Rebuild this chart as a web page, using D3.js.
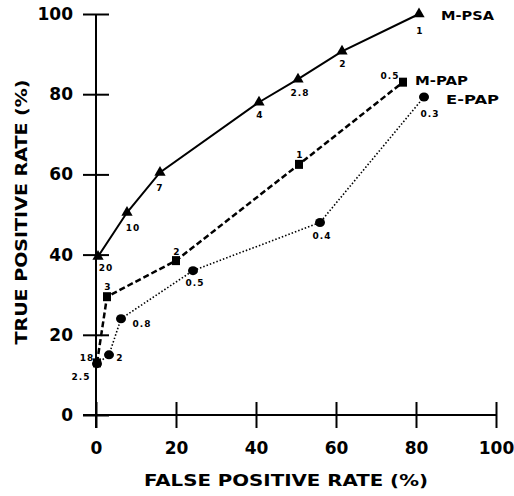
<!DOCTYPE html>
<html>
<head>
<meta charset="utf-8">
<script src="https://cdn.jsdelivr.net/npm/d3@7"></script>
<style>
  body { margin: 0; background: #fff; }
  text { font-family: "DejaVu Sans", sans-serif; font-weight: bold; fill: #000; }
</style>
</head>
<body>
<div id="chart"></div>
<script>
// ROC curves, false positive rate vs true positive rate (%)
var seriesNames = ["M-PSA", "M-PAP", "E-PAP"];

var psaFpr = [0.5, 7.75, 16, 40.75, 50.5, 61.5, 80.75];
var psaTpr = [39.5, 50.5, 60.5, 78, 83.75, 90.7, 100];
var psaCut = ["20", "10", "7", "4", "2.8", "2", "1"];

var mpapFpr = [0.25, 2.75, 20, 50.75, 76.75];
var mpapTpr = [13, 29.5, 38.5, 62.5, 83];
var mpapCut = ["18", "3", "2", "1", "0.5"];

var epapFpr = [0.25, 3.25, 6.25, 24.25, 56, 82];
var epapTpr = [12.8, 15, 24, 36, 48, 79.3];
var epapCut = ["2.5", "2", "0.8", "0.5", "0.4", "0.3"];

var xTicks = [0, 20, 40, 60, 80, 100];
var yTicks = [0, 20, 40, 60, 80, 100];

// label offsets (px) for the cut-off numbers
var psaOff = [[8, 11], [6, 15], [0, 15], [1, 13], [2, 14], [1, 13], [1, 17]];
var mpapOff = [[-10, -5], [1, -10], [1, -9], [1, -10], [-13, -6]];
var epapOff = [[-16, 13], [11, 3], [21, 5], [2, 12], [2, 13], [6, 17]];

function zip(fpr, tpr, cut, off) {
    return fpr.map(function(d, i) {
        return {x: d, y: tpr[i], cut: cut[i], dx: off[i][0], dy: off[i][1]};
    });
}

var series = [
    {name: seriesNames[0], points: zip(psaFpr, psaTpr, psaCut, psaOff), dash: null, width: 2, marker: "triangle", lx: 441, ly: 20},
    {name: seriesNames[1], points: zip(mpapFpr, mpapTpr, mpapCut, mpapOff), dash: "6,3", width: 2.5, marker: "square", lx: 415, ly: 85},
    {name: seriesNames[2], points: zip(epapFpr, epapTpr, epapCut, epapOff), dash: "1.5,2", width: 1.6, marker: "circle", lx: 446, ly: 104}
];

var width = 514, height = 496;
var svg = d3.select("#chart").append("svg")
    .attr("width", width)
    .attr("height", height);

var x = d3.scaleLinear().domain([0, 100]).range([96, 496]);
var y = d3.scaleLinear().domain([0, 100]).range([415, 14]);

// axes: ticks cross the axis line
var yAxis = d3.axisLeft(y).tickValues(yTicks).tickSizeInner(13).tickSizeOuter(0).tickPadding(10);
var gy = svg.append("g").attr("transform", "translate(" + x(0) + ",0)").call(yAxis);
var gy2 = svg.append("g").attr("transform", "translate(" + x(0) + ",0)")
    .call(d3.axisRight(y).tickValues(yTicks).tickSize(13).tickFormat(""));
gy2.select(".domain").remove();

var xAxis = d3.axisBottom(x).tickValues(xTicks).tickSizeInner(13).tickSizeOuter(0).tickPadding(14);
var gx = svg.append("g").attr("transform", "translate(0," + y(0) + ")").call(xAxis);
var gx2 = svg.append("g").attr("transform", "translate(0," + y(0) + ")")
    .call(d3.axisTop(x).tickValues(xTicks).tickSize(13).tickFormat(""));
gx2.select(".domain").remove();

svg.selectAll(".domain, .tick line").attr("stroke", "#000").attr("stroke-width", 2);
gy.select(".domain").attr("d", "M0," + y(100) + "V" + (y(0) + 13));
gx.select(".domain").attr("d", "M" + (x(0) - 13) + ",0H" + x(100));
svg.selectAll(".tick text")
    .style("font-family", "'DejaVu Sans', sans-serif")
    .style("font-weight", "bold")
    .style("font-size", "17px")
    .attr("fill", "#000");
gx.selectAll(".tick text").attr("dy", "0.71em");

// axis titles
svg.append("text")
    .attr("x", 286).attr("y", 486)
    .attr("text-anchor", "middle")
    .attr("textLength", 284).attr("lengthAdjust", "spacingAndGlyphs")
    .style("font-size", "15px")
    .text("FALSE POSITIVE RATE (%)");

svg.append("text")
    .attr("transform", "translate(27,212) rotate(-90)")
    .attr("text-anchor", "middle")
    .attr("textLength", 265).attr("lengthAdjust", "spacingAndGlyphs")
    .style("font-size", "15px")
    .text("TRUE POSITIVE RATE (%)");

var line = d3.line().x(function(d) { return x(d.x); }).y(function(d) { return y(d.y); });

series.forEach(function(s) {
    svg.append("path")
        .datum(s.points)
        .attr("d", line)
        .attr("fill", "none")
        .attr("stroke", "#000")
        .attr("stroke-width", s.width)
        .attr("stroke-dasharray", s.dash);

    var g = svg.append("g");
    if (s.marker === "triangle") {
        g.selectAll("path").data(s.points).enter().append("path")
            .attr("d", d3.symbol().type(d3.symbolTriangle).size(55))
            .attr("transform", function(d) { return "translate(" + x(d.x) + "," + y(d.y) + ")"; });
    } else if (s.marker === "square") {
        g.selectAll("rect").data(s.points).enter().append("rect")
            .attr("x", function(d) { return x(d.x) - 4; })
            .attr("y", function(d) { return y(d.y) - 4.5; })
            .attr("width", 8).attr("height", 9);
    } else {
        g.selectAll("ellipse").data(s.points).enter().append("ellipse")
            .attr("cx", function(d) { return x(d.x); })
            .attr("cy", function(d) { return y(d.y); })
            .attr("rx", 5).attr("ry", 4.5);
    }

    svg.selectAll(null).data(s.points).enter().append("text")
        .attr("x", function(d) { return x(d.x) + d.dx; })
        .attr("y", function(d) { return y(d.y) + d.dy; })
        .attr("text-anchor", "middle")
        .attr("dy", "0.35em")
        .style("font-size", "9px")
        .style("letter-spacing", "1px")
        .text(function(d) { return d.cut; });

    svg.append("text")
        .attr("x", s.lx).attr("y", s.ly)
        .attr("textLength", 53).attr("lengthAdjust", "spacingAndGlyphs")
        .style("font-size", "13px")
        .text(s.name);
});
</script>
</body>
</html>
